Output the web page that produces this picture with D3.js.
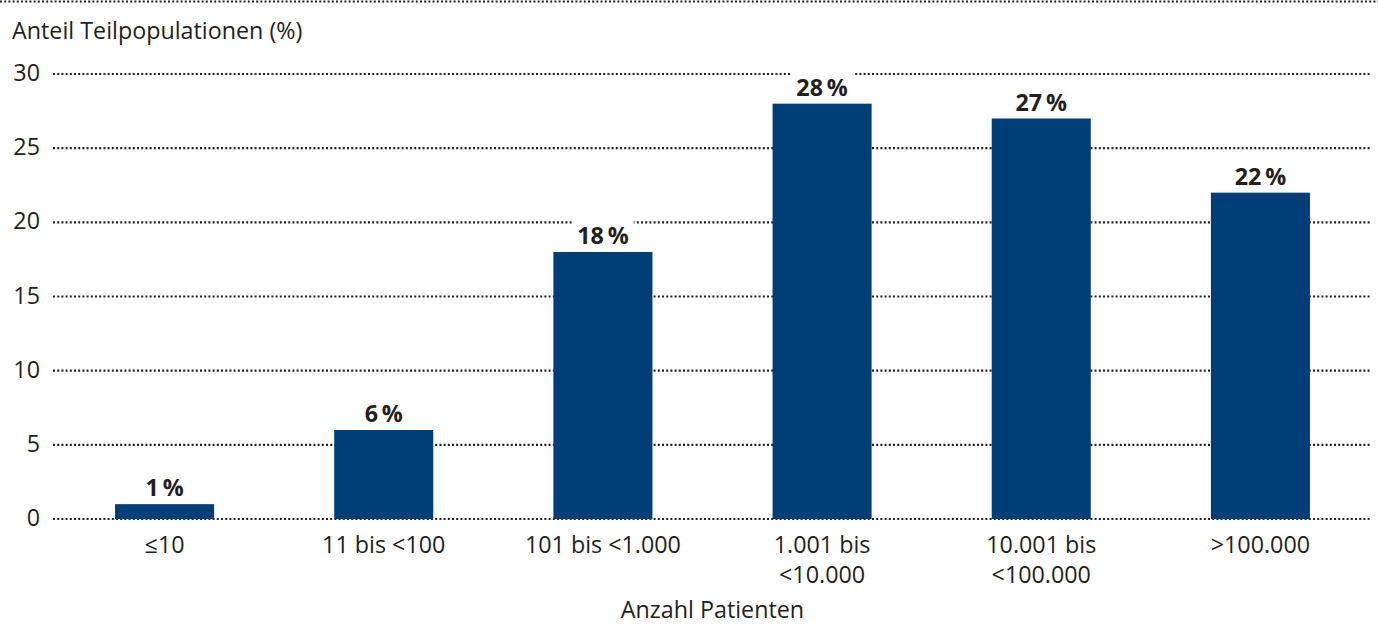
<!DOCTYPE html>
<html><head><meta charset="utf-8">
<script src="https://cdn.jsdelivr.net/npm/d3@7"></script>
<style>
body{margin:0;background:#fff;}
svg{display:block;font-family:"Open Sans",sans-serif;}
</style></head>
<body><svg id="c" width="1378" height="624"></svg>
<script>
const categories = [["≤10"],["11 bis <100"],["101 bis <1.000"],["1.001 bis","<10.000"],["10.001 bis","<100.000"],[">100.000"]];
const values = [1,6,18,28,27,22];
const yTicks = [0,5,10,15,20,25,30];
const yTitle = "Anteil Teilpopulationen (%)";
const xTitle = "Anzahl Patienten";

(function(){
const svg = d3.select("#c");
const W = 1378, H = 624;
const pl = 55, pr = 1370, pt = 74, pb = 519;
const ink = "#231f20";
const fs = 23.3;
const dash = "2 2.2", sw = 2.1;
const x = d3.scaleBand().domain(d3.range(values.length)).range([pl,pr]).paddingInner(0.548).paddingOuter(0.274);
const y = d3.scaleLinear().domain([0,30]).range([pb,pt]);

// top rule
svg.append("line").attr("x1",0).attr("x2",W).attr("y1",1.5).attr("y2",1.5)
  .attr("stroke",ink).attr("stroke-width",sw).attr("stroke-dasharray",dash);

// gridlines
svg.append("g").selectAll("line").data(yTicks).join("line")
  .attr("x1",pl-2).attr("x2",pr).attr("y1",d=>y(d)).attr("y2",d=>y(d))
  .attr("stroke",ink).attr("stroke-width",sw).attr("stroke-dasharray",dash);

// y axis labels
const yAxis = d3.axisLeft(y).tickValues(yTicks).tickSize(0).tickPadding(0);
const gy = svg.append("g").attr("transform",`translate(40,0)`).call(yAxis);
gy.select(".domain").remove();
gy.selectAll("text").attr("font-size",fs).attr("fill",ink).attr("font-family","Open Sans").attr("dy","0.28em");

svg.append("text").attr("x",12).attr("y",39).attr("font-size",fs).attr("fill",ink).text(yTitle);

// bars
svg.append("g").selectAll("rect").data(values).join("rect")
  .attr("x",(d,i)=>x(i)).attr("width",x.bandwidth())
  .attr("y",d=>y(d)).attr("height",d=>y(0)-y(d)).attr("fill","#003e78");

// value labels with white background
const lg = svg.append("g").selectAll("g").data(values).join("g")
  .attr("transform",(d,i)=>`translate(${x(i)+x.bandwidth()/2},${y(d)-8})`);
lg.each(function(d){
  const g = d3.select(this);
  const t = g.append("text").attr("text-anchor","middle").attr("font-size",fs).attr("font-weight","bold")
    .attr("fill",ink).text(d+"\u2009%");
  const b = t.node().getBBox();
  g.insert("rect","text").attr("x",b.x-5).attr("y",b.y).attr("width",b.width+10).attr("height",b.height).attr("fill","#fff");
});

// x labels
const xl = svg.append("g").selectAll("text").data(categories).join("text")
  .attr("text-anchor","middle").attr("font-size",fs).attr("fill",ink)
  .attr("x",(d,i)=>x(i)+x.bandwidth()/2).attr("y",553);
xl.selectAll("tspan").data(d=>d).join("tspan")
  .attr("x",function(){return d3.select(this.parentNode).attr("x");})
  .attr("dy",(d,i)=>i?30:0).text(d=>d);

svg.append("text").attr("x",(pl+pr)/2).attr("y",618).attr("text-anchor","middle")
  .attr("font-size",fs).attr("fill",ink).text(xTitle);
})();
</script></body></html>
